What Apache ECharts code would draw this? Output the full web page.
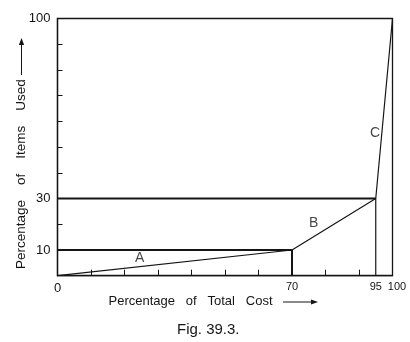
<!DOCTYPE html>
<html>
<head>
<meta charset="utf-8">
<script src="https://cdn.jsdelivr.net/npm/echarts@6/dist/echarts.min.js"></script>
<style>
  html, body { margin: 0; padding: 0; background: #fff; }
  #chart { width: 410px; height: 342px; }
</style>
</head>
<body>
<div id="chart"></div>
<script>
// ABC analysis curve: cumulative share of total cost vs share of items used
const costPct = [0, 70, 95, 100];
const itemsPct = [0, 10, 30, 100];
const zoneNames = ['A', 'B', 'C'];

const xTickValues = [10, 20, 30, 40, 50, 60, 80, 90];
const xLabelValues = [0, 70, 95, 100];
const yTickValues = [20, 40, 50, 60, 70, 80, 90];
const yLabelValues = [10, 30, 100];

const INK = '#151515';
const FONT = '"Liberation Sans", Arial, Helvetica, sans-serif';

// curve through the class boundaries
const curve = costPct.map((c, i) => [c, itemsPct[i]]);

// guide lines from the axes to the A/B and B/C boundaries
const guides = [];
[1, 2].forEach(i => {
  guides.push({ h: [[0, itemsPct[i]], [costPct[i], itemsPct[i]]], v: [[costPct[i], 0], [costPct[i], itemsPct[i]]], w: i === 1 ? 2 : 1.2 });
});

// where each class letter sits beside its segment
const zoneLabelAt = [[24.5, 7], [76.5, 20.3], [94.8, 55.6]];

const series = [];
guides.forEach(g => {
  series.push({ type: 'line', data: g.h, symbol: 'none', silent: true,
    lineStyle: { color: INK, width: 2 } });
  series.push({ type: 'line', data: g.v, symbol: 'none', silent: true,
    lineStyle: { color: INK, width: g.w } });
});
series.push({ type: 'line', data: curve, symbol: 'none', silent: true,
  lineStyle: { color: INK, width: 1.2 } });
series.push({
  type: 'scatter', symbolSize: 0, silent: true,
  data: zoneNames.map((n, i) => ({ name: n, value: zoneLabelAt[i] })),
  label: { show: true, position: 'inside', formatter: p => p.name,
    color: INK, fontFamily: FONT, fontSize: 14 }
});

// direction arrows drawn after the axis titles
function arrow(x1, y1, x2, y2) {
  const len = Math.hypot(x2 - x1, y2 - y1);
  const ux = (x2 - x1) / len, uy = (y2 - y1) / len;
  const hl = 7, hw = 2.6;
  const bx = x2 - ux * hl, by = y2 - uy * hl;
  return {
    type: 'group', silent: true,
    children: [
      { type: 'line', shape: { x1, y1, x2: bx, y2: by },
        style: { stroke: INK, lineWidth: 1 } },
      { type: 'polygon',
        shape: { points: [[x2, y2], [bx - uy * hw, by + ux * hw], [bx + uy * hw, by - ux * hw]] },
        style: { fill: INK } }
    ]
  };
}

const chart = echarts.init(document.getElementById('chart'), null, { renderer: 'canvas' });
chart.setOption({
  animation: false,
  backgroundColor: '#fff',
  grid: { left: 57.5, right: 17.5, top: 18.5, bottom: 66.3, show: true,
    outerBoundsMode: 'none',
    borderColor: INK, borderWidth: 1.3, backgroundColor: 'transparent' },
  xAxis: {
    type: 'value', min: 0, max: 100, interval: 10,
    name: 'Percentage   of   Total   Cost',
    nameLocation: 'middle', nameGap: 19, nameMoveOverlap: false,
    nameTextStyle: { color: INK, fontFamily: FONT, fontSize: 13, padding: [0, 69, 0, 0] },
    axisLine: { lineStyle: { color: INK, width: 1.3 } },
    axisTick: { show: true, inside: true, length: 6, customValues: xTickValues,
      lineStyle: { color: INK, width: 1 } },
    axisLabel: { customValues: xLabelValues, color: INK, fontFamily: FONT, margin: 6,
      formatter: v => v === 0 ? '{big|0}' : v === 100 ? '{r|100}' : String(v),
      fontSize: 11,
      rich: { big: { fontSize: 13, fontFamily: FONT, color: INK },
              r: { fontSize: 11, fontFamily: FONT, color: INK, padding: [0, 0, 0, 9] } } },
    splitLine: { show: false }
  },
  yAxis: {
    type: 'value', min: 0, max: 100, interval: 10,
    name: 'Percentage    of    Items    Used',
    nameLocation: 'middle', nameGap: 29, nameRotate: 90, nameMoveOverlap: false,
    nameTextStyle: { color: INK, fontFamily: FONT, fontSize: 13.5, padding: [0, 54, 0, 0] },
    axisLine: { lineStyle: { color: INK, width: 1.3 } },
    axisTick: { show: true, inside: true, length: 5, customValues: yTickValues,
      lineStyle: { color: INK, width: 1 } },
    axisLabel: { customValues: yLabelValues, color: INK, fontFamily: FONT,
      fontSize: 13, margin: 7 },
    splitLine: { show: false }
  },
  graphic: [
    arrow(283, 302, 318, 302),
    arrow(21.5, 75, 21.5, 38),
    { type: 'text', left: 177, top: 322,
      style: { text: 'Fig. 39.3.', fill: INK, font: '15px ' + FONT } }
  ],
  series
});
</script>
</body>
</html>
